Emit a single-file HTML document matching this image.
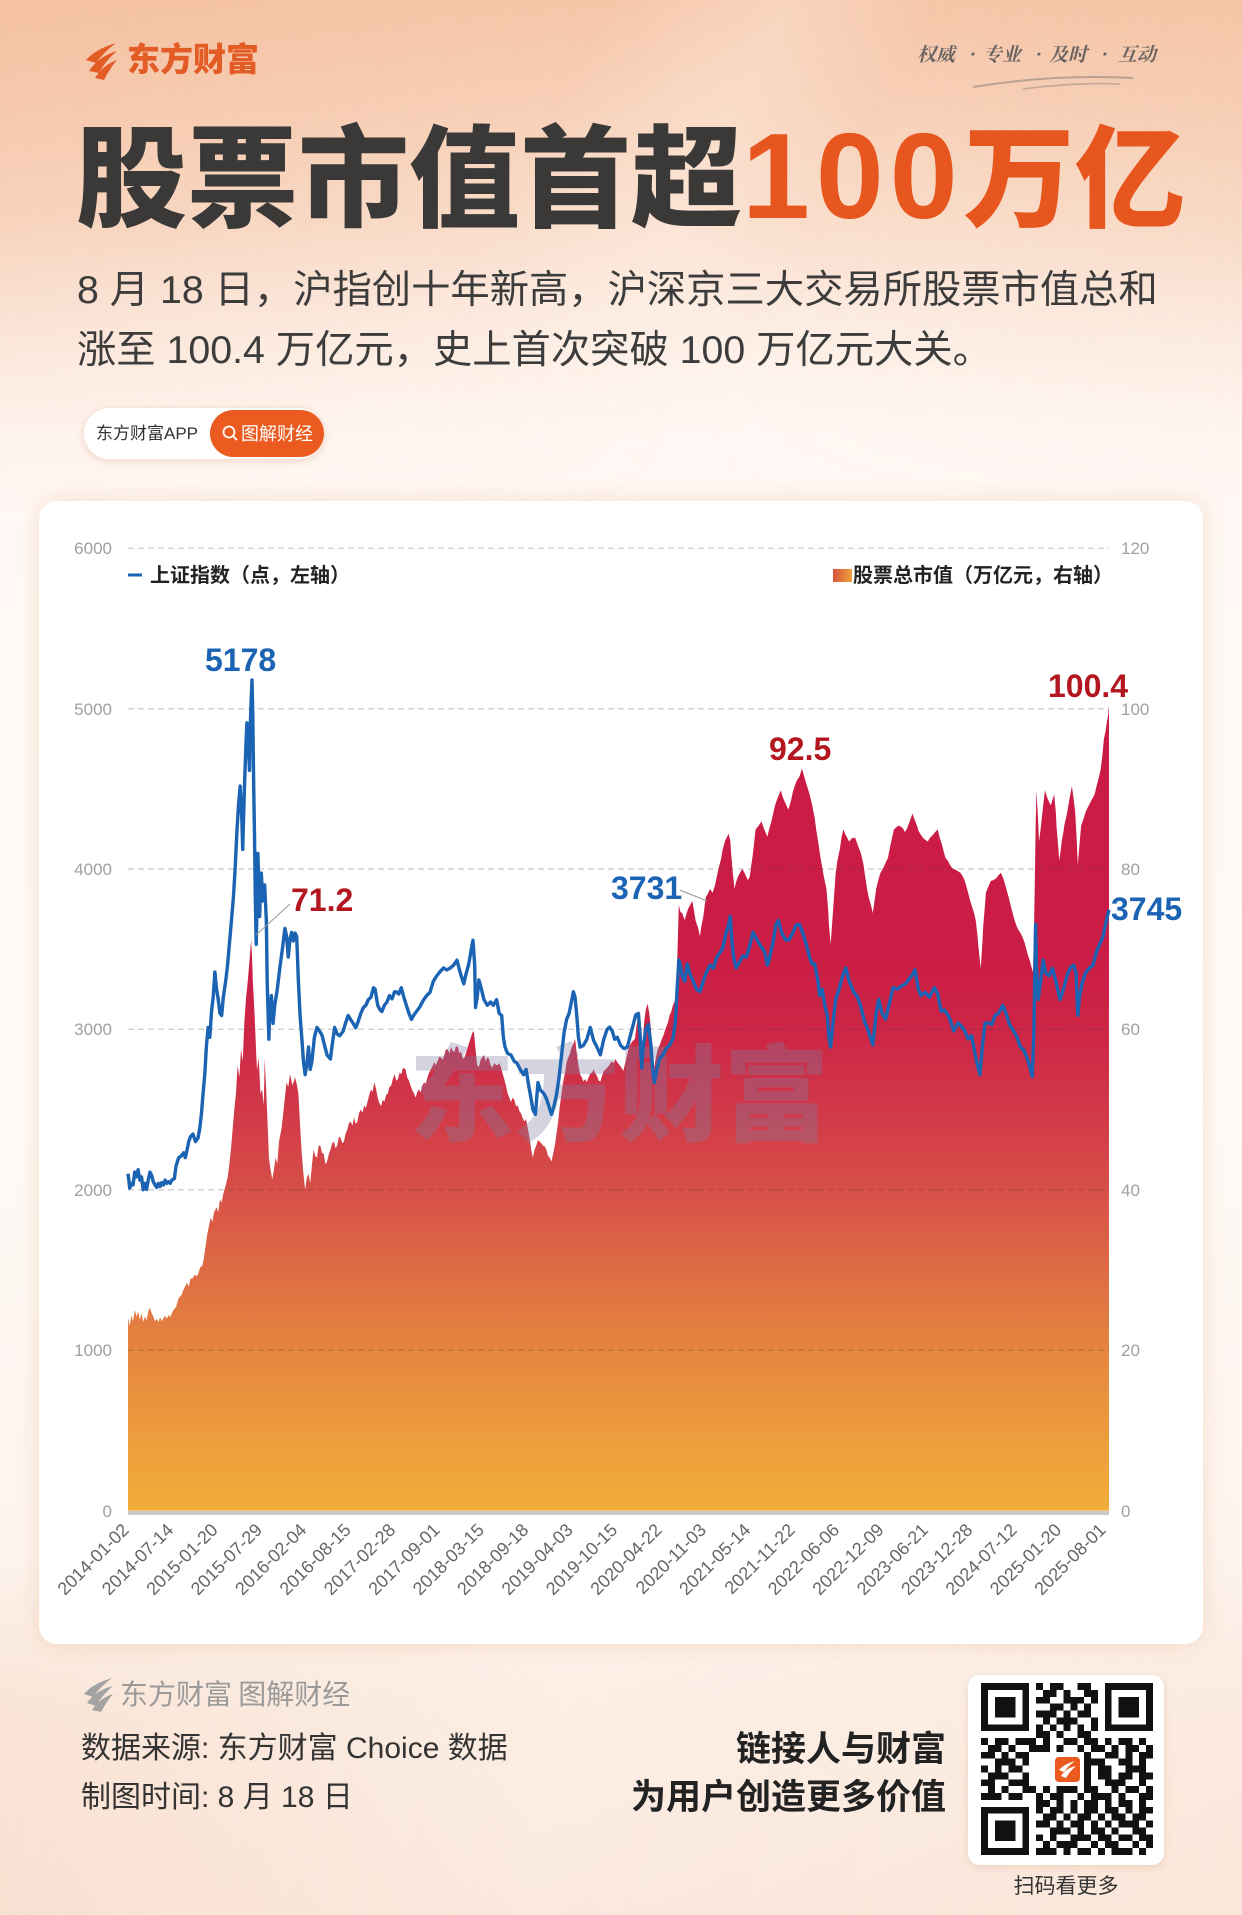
<!DOCTYPE html>
<html lang="zh">
<head>
<meta charset="utf-8">
<style>
  html,body{margin:0;padding:0;}
  body{
    width:1242px;height:1915px;position:relative;overflow:hidden;
    background:linear-gradient(180deg,#f6c7aa 0px,#f8d2ba 110px,#fadfcd 220px,#fcebe0 300px,#fef4ed 380px,#fff8f4 440px,#fffaf6 1100px,#fdf4ee 1550px,#fcefe6 1700px,#fbe9de 1915px);
    font-family:"Liberation Sans","Noto Sans CJK SC",sans-serif;
  }
  .ov1{position:absolute;left:0;top:0;width:1242px;height:520px;
    background:linear-gradient(90deg,rgba(240,170,130,0.22) 0%,rgba(255,255,255,0) 55%,rgba(240,180,140,0.12) 100%);
    -webkit-mask-image:linear-gradient(to bottom,#000 0%,#000 45%,transparent 100%);
    mask-image:linear-gradient(to bottom,#000 0%,#000 45%,transparent 100%);}
  .ov2{position:absolute;left:0;top:0;width:1242px;height:520px;
    background:linear-gradient(118deg,rgba(255,255,255,0) 40%,rgba(255,240,230,0.35) 52%,rgba(255,255,255,0) 62%);
    -webkit-mask-image:linear-gradient(to bottom,#000 0%,#000 45%,transparent 100%);
    mask-image:linear-gradient(to bottom,#000 0%,#000 45%,transparent 100%);}
  .ov3{position:absolute;left:0;top:1560px;width:1242px;height:355px;
    background:linear-gradient(100deg,rgba(246,214,192,0.45) 0%,rgba(255,255,255,0) 45%,rgba(250,225,208,0.3) 100%);
    -webkit-mask-image:linear-gradient(to bottom,transparent 0%,#000 45%,#000 100%);
    mask-image:linear-gradient(to bottom,transparent 0%,#000 45%,#000 100%);}
  .card{position:absolute;left:39px;top:501px;width:1164px;height:1143px;background:#fff;border-radius:18px;
    box-shadow:0 0 22px rgba(236,190,150,0.45);}
  .pill{position:absolute;left:83px;top:407px;width:242px;height:53px;border-radius:27px;background:#fff;
    box-shadow:0 2px 7px rgba(220,170,140,0.35);border:1px solid #f4e4da;box-sizing:border-box;}
  .pill2{position:absolute;left:210px;top:410px;width:114px;height:47px;border-radius:24px;background:#eb5a1e;}
  .qr{position:absolute;left:968px;top:1675px;width:196px;height:190px;background:#fff;border-radius:12px;
    box-shadow:0 2px 8px rgba(200,160,130,0.3);}
  svg.main{position:absolute;left:0;top:0;z-index:2;}
</style>
</head>
<body>
<div class="ov1"></div>
<div class="ov2"></div>
<div class="ov3"></div>
<div class="pill"></div>
<div class="pill2"></div>
<div class="card"></div>
<div class="qr"></div>

<svg class="main" width="1242" height="1915" viewBox="0 0 1242 1915" xmlns="http://www.w3.org/2000/svg">
  <defs>
    <linearGradient id="areaG" gradientUnits="userSpaceOnUse" x1="0" y1="0" x2="0" y2="100">
      <stop offset="0" stop-color="#f1ad3a"/>
      <stop offset="0.1" stop-color="#ec9b3c"/>
      <stop offset="0.2" stop-color="#e5853f"/>
      <stop offset="0.3" stop-color="#de6b44"/>
      <stop offset="0.4" stop-color="#d74f48"/>
      <stop offset="0.5" stop-color="#d13848"/>
      <stop offset="0.6" stop-color="#cd2546"/>
      <stop offset="0.7" stop-color="#cb1c45"/>
      <stop offset="1" stop-color="#cb1b45"/>
    </linearGradient>
    <linearGradient id="legG" x1="0" y1="0" x2="1" y2="0">
      <stop offset="0" stop-color="#d8523f"/>
      <stop offset="1" stop-color="#eea23b"/>
    </linearGradient>
  </defs>

  <!-- Header logo -->
  <g fill="#e35b25">
    <path d="M86 60 Q96 49 116 43 Q104 52 96 63 Z"/>
    <path d="M89 71 Q99 56 117 51 Q106 60 99 73 Z"/>
    <path d="M95 78 Q103 65 117 60 Q110 68 104 80 Z"/>
  </g>
  <text x="127" y="71" font-family="Noto Sans CJK SC,sans-serif" font-size="33" font-weight="900" fill="#e35b25">东方财富</text>

  <!-- Slogan -->
  <g font-family="Noto Serif CJK SC,Noto Sans CJK SC,serif" font-size="19" font-weight="700" fill="#6a6463" font-style="italic">
    <text x="917" y="61">权威</text>
    <text x="968" y="61">·</text>
    <text x="983" y="61">专业</text>
    <text x="1034" y="61">·</text>
    <text x="1049" y="61">及时</text>
    <text x="1100" y="61">·</text>
    <text x="1118" y="61">互动</text>
  </g>
  <path d="M973 87 Q1053 74 1133 78" stroke="#8a7d78" stroke-width="2" fill="none" opacity="0.55"/>
  <path d="M1023 89 Q1075 82 1120 84" stroke="#8a7d78" stroke-width="1.6" fill="none" opacity="0.45"/>

  <!-- Title -->
  <text x="76" y="218" font-family="Noto Sans CJK SC,sans-serif" font-size="111" font-weight="900" fill="#3a3938">股票市值首超<tspan fill="#e8561f" font-family="Liberation Sans,sans-serif" font-size="122" font-weight="700" letter-spacing="6">100</tspan><tspan fill="#e8561f">万亿</tspan></text>

  <!-- Subtitle -->
  <g font-family="Liberation Sans,Noto Sans CJK SC,sans-serif" font-size="39.3" fill="#3c3c3c">
    <text x="77" y="303">8 月 18 日，沪指创十年新高，沪深京三大交易所股票市值总和</text>
    <text x="77" y="363">涨至 100.4 万亿元，史上首次突破 100 万亿元大关。</text>
  </g>

  <!-- Pill texts -->
  <text x="96" y="439" font-family="Liberation Sans,Noto Sans CJK SC,sans-serif" font-size="17" fill="#333">东方财富APP</text>
  <circle cx="229" cy="432" r="5.5" fill="none" stroke="#fff" stroke-width="1.8"/>
  <line x1="233" y1="436" x2="236.5" y2="439.5" stroke="#fff" stroke-width="1.8" stroke-linecap="round"/>
  <text x="241" y="440" font-family="Noto Sans CJK SC,sans-serif" font-size="18" fill="#fff">图解财经</text>

  <!-- Chart: area -->
  <g transform="matrix(84.35 0 0 -8.0217 128 1510.6)">
    <path fill="url(#areaG)" d="M0,0 L0,24 0.02,23 0.04,24.3 0.06,23.6 0.08,25 0.10,24.2 0.12,24.8 0.14,23.8 0.16,24.6 0.18,23.5 0.20,24.2 0.22,23.7 0.24,24.8 0.26,25.3 0.28,24.6 0.30,24.2 0.32,23.6 0.34,23.9 0.36,23.5 0.38,24.1 0.40,23.6 0.42,24 0.44,24.3 0.46,23.9 0.48,24.4 0.50,24.1 0.52,24.6 0.54,25 0.57,25.4 0.60,26.5 0.63,26.8 0.66,27.6 0.70,28.4 0.72,27.9 0.74,28.9 0.77,29 0.79,29.4 0.82,29.2 0.84,29.8 0.86,30.4 0.88,30.5 0.90,31.5 0.92,33 0.94,34.5 0.96,35.5 0.98,36.5 1.00,36 1.02,37.2 1.05,37.8 1.07,37.2 1.09,38.8 1.11,38.4 1.13,39.5 1.16,40.6 1.18,41.5 1.20,43 1.22,45 1.24,47.5 1.26,50 1.28,52 1.30,55.5 1.32,54 1.34,57.5 1.36,56 1.38,61 1.40,64 1.42,66 1.44,68.5 1.46,71.2 1.47,69 1.48,66 1.50,62 1.52,57 1.53,54.9 1.55,56.5 1.57,52 1.59,52.5 1.61,50.5 1.62,56.4 1.64,52 1.66,47 1.67,44 1.69,42.5 1.71,41.3 1.73,42.5 1.75,44 1.77,43.2 1.79,46 1.82,47.6 1.84,49.5 1.86,51.5 1.88,53.4 1.90,52.8 1.92,54.4 1.95,53 1.98,54 2.00,53.2 2.02,52 2.04,48 2.06,44.5 2.08,42 2.10,40 2.12,41.5 2.14,42 2.16,40.8 2.18,43 2.20,45 2.22,44.2 2.24,44 2.26,45.5 2.28,45.5 2.30,44.6 2.32,44.5 2.34,43.2 2.36,43.5 2.38,44.4 2.40,45 2.42,45.8 2.44,46 2.46,45.2 2.48,45.5 2.50,46.6 2.52,46.5 2.54,45.8 2.56,46 2.58,47 2.60,47.5 2.62,48.3 2.64,48.5 2.66,48 2.68,49 2.70,48.2 2.72,48.5 2.74,49.6 2.76,50 2.78,49.6 2.80,50.5 2.82,50.2 2.84,51 2.86,51.8 2.88,52.5 2.90,52.2 2.92,53.4 2.94,52.6 2.96,51.5 2.98,50.8 3.00,50.4 3.02,51.2 3.04,51 3.06,51.8 3.08,52 3.10,52.8 3.12,53 3.14,53.8 3.16,54.4 3.18,53.6 3.20,53.8 3.22,54.6 3.24,54.4 3.26,55.2 3.29,55 3.31,54 3.33,53.6 3.35,53 3.37,52.4 3.39,52 3.41,51.5 3.43,52.2 3.45,52.5 3.47,52.1 3.49,53 3.51,53.4 3.53,53.2 3.55,54 3.57,54.6 3.59,55 3.61,55.4 3.63,55.9 3.65,55.5 3.67,56 3.69,56.6 3.71,56.5 3.73,56.2 3.75,56.8 3.77,57.5 3.79,57.5 3.81,57 3.83,57.8 3.85,57.3 3.87,57.2 3.89,57.9 3.91,57.8 3.93,57 3.95,57.2 3.97,56.3 3.99,56.5 4.02,57.5 4.04,58.2 4.06,58.8 4.08,59.5 4.10,59.8 4.12,57.5 4.14,55.5 4.16,55.3 4.18,56.2 4.20,56.5 4.22,56.8 4.24,56 4.26,56.5 4.28,56.3 4.30,55.5 4.32,55.2 4.34,55.8 4.36,55.6 4.38,55.5 4.40,55.8 4.42,55.3 4.44,54.5 4.46,53.8 4.48,53 4.50,52 4.52,51.5 4.54,50.9 4.56,51.5 4.58,51.2 4.60,50.4 4.62,50.5 4.64,49.8 4.66,49.5 4.68,48.9 4.70,48.5 4.72,48.8 4.74,47.6 4.76,46.5 4.78,45 4.80,44 4.82,45 4.84,45.5 4.86,46.2 4.88,46 4.90,45.8 4.92,45.5 4.94,45.4 4.96,45 4.98,44.2 5.00,44 5.02,43.5 5.04,44.5 5.06,45.5 5.08,47 5.10,48.5 5.12,50.5 5.14,52 5.16,53.5 5.18,54.5 5.20,55.9 5.22,56.5 5.24,57 5.26,57.8 5.28,58.2 5.30,58.8 5.32,57 5.34,55.5 5.36,54.4 5.38,54 5.40,53.5 5.42,53.8 5.44,53.4 5.46,54 5.48,54.5 5.50,54.6 5.52,55 5.54,54.5 5.56,54.2 5.58,53.6 5.60,53.5 5.62,54.2 5.64,54.8 5.66,55 5.69,55.3 5.71,55.6 5.73,56 5.76,55.8 5.78,56.3 5.80,55.9 5.83,55.5 5.85,55.2 5.87,54.8 5.89,55.6 5.91,56.5 5.94,57.8 5.96,58.2 5.98,58.5 6.01,58.8 6.03,60.5 6.05,61.7 6.07,62 6.09,59 6.10,58 6.12,61 6.14,62.5 6.16,63.2 6.18,62 6.20,60 6.22,56.5 6.24,55.3 6.26,56.6 6.28,57.5 6.31,58.2 6.33,58.8 6.35,59.3 6.37,60 6.40,60.8 6.42,61.7 6.44,62.2 6.46,63 6.49,63.7 6.51,68 6.53,75.5 6.55,74.6 6.57,74.5 6.60,73.6 6.62,74.4 6.64,75 6.67,75.6 6.69,76 6.71,74.8 6.73,73.5 6.76,72.6 6.78,71.6 6.80,73 6.82,74 6.85,76.5 6.87,76.8 6.90,77.5 6.93,77 6.96,78 6.98,79 7.00,80 7.03,81.2 7.05,82.4 7.08,83.5 7.12,84.4 7.14,83.5 7.15,82 7.17,79.5 7.19,77.5 7.21,78.4 7.23,79 7.26,79.6 7.28,80 7.31,79.5 7.33,79 7.35,78.6 7.37,79 7.39,80.5 7.41,82 7.44,84.9 7.47,85.3 7.51,85.9 7.54,85 7.56,84.5 7.58,84 7.60,84.9 7.62,85.6 7.64,86.5 7.67,87.9 7.70,88.8 7.74,89.8 7.76,89 7.78,88.5 7.81,87.8 7.83,87.4 7.86,88.5 7.88,89.5 7.90,90.2 7.92,90.8 7.94,91.2 7.96,91.5 7.99,92.5 8.01,91.8 8.03,91 8.06,90 8.08,89.3 8.11,88 8.14,86.4 8.16,84.8 8.18,83.5 8.21,81.4 8.23,80.2 8.25,79 8.28,77.5 8.30,75 8.31,73 8.33,70.6 8.35,73.5 8.36,75 8.39,79.5 8.41,81 8.44,82.5 8.46,84 8.48,84.9 8.51,84.2 8.55,83.4 8.58,83.8 8.62,83.9 8.65,83 8.69,81.9 8.72,80.5 8.74,79 8.76,77.6 8.78,76.5 8.81,75.4 8.83,74.5 8.85,76 8.87,77.5 8.90,78.8 8.92,79.5 8.95,80 8.97,80.5 9.01,81.4 9.04,83 9.08,84.9 9.11,85.2 9.14,85.4 9.17,85.2 9.19,85 9.21,84.6 9.23,84.9 9.27,86 9.30,86.9 9.33,86 9.35,85.5 9.37,84.8 9.39,84.4 9.43,83.8 9.48,83.4 9.51,83.9 9.54,84.2 9.57,84.6 9.60,84.9 9.62,84 9.65,83 9.67,82.2 9.69,81.4 9.72,81 9.75,80.4 9.78,80 9.81,79.9 9.84,79.7 9.87,79.5 9.90,79 9.92,78.5 9.94,77.8 9.96,77 9.98,76.2 10.00,75.5 10.03,74.5 10.05,73.6 10.07,71.8 10.08,70.5 10.10,68.5 10.11,67.6 10.13,71 10.14,73 10.16,75.5 10.17,77 10.20,77.8 10.23,78.5 10.26,78.6 10.29,78.8 10.32,79.2 10.35,79.5 10.38,78.7 10.40,78 10.42,77.2 10.44,76.5 10.47,75.2 10.51,73.6 10.53,73 10.55,72.5 10.58,72 10.60,71.6 10.63,70.8 10.65,70 10.67,69.2 10.69,68.6 10.71,67.8 10.73,67.1 10.74,72 10.75,78 10.76,85 10.77,89.8 10.79,86 10.80,83.4 10.82,85 10.84,87 10.86,88.8 10.87,89.8 10.90,88.8 10.94,87.9 10.96,88.6 10.98,89.3 11.00,87 11.01,85 11.03,82.5 11.04,81 11.06,82.5 11.07,83.5 11.09,84.6 11.10,85.4 11.13,86.8 11.15,88 11.17,89.2 11.19,90.3 11.21,88.8 11.23,87 11.25,83 11.26,80.5 11.28,83 11.30,85.4 11.33,86.3 11.35,87 11.37,87.5 11.39,87.9 11.42,88.5 11.46,89.3 11.48,90.2 11.50,91 11.53,92.3 11.55,94 11.57,96.2 11.59,97.2 11.60,98 11.62,99.2 11.63,100.4 11.63,0 Z"/>
  </g>

  <!-- Watermark -->
  <text x="409" y="1133" font-family="Noto Sans CJK SC,sans-serif" font-size="105" font-weight="900" fill="#7c7fa3" opacity="0.33">东方财富</text>

  <!-- Gridlines -->
  <g stroke="rgba(60,60,60,0.22)" stroke-width="1.5" stroke-dasharray="6 4">
    <line x1="128" y1="548.3" x2="1109" y2="548.3"/>
    <line x1="128" y1="708.7" x2="1109" y2="708.7"/>
    <line x1="128" y1="869" x2="1109" y2="869"/>
    <line x1="128" y1="1029.3" x2="1109" y2="1029.3"/>
    <line x1="128" y1="1189.7" x2="1109" y2="1189.7"/>
    <line x1="128" y1="1350.1" x2="1109" y2="1350.1"/>
  </g>
  <rect x="128" y="1511" width="981" height="4" fill="#c9c7c7"/>

  <!-- Blue line -->
  <g transform="matrix(84.35 0 0 -0.16043 128 1510.6)">
    <path fill="none" stroke="#1b63b3" stroke-width="3.4" stroke-linejoin="round" vector-effect="non-scaling-stroke" d="M0,2100 L0.01,2060 0.02,2010 0.04,2040 0.06,2030 0.08,2110 0.10,2080 0.12,2125 0.14,2060 0.16,2080 0.18,2000 0.20,2040 0.22,2002 0.24,2060 0.26,2110 0.28,2090 0.30,2050 0.32,2030 0.34,2014 0.36,2040 0.38,2020 0.40,2045 0.42,2030 0.44,2060 0.46,2040 0.48,2050 0.50,2040 0.52,2060 0.55,2070 0.57,2150 0.60,2199 0.63,2210 0.66,2230 0.68,2200 0.70,2248 0.72,2300 0.74,2330 0.77,2347 0.80,2300 0.83,2322 0.85,2380 0.87,2470 0.89,2600 0.91,2717 0.93,2900 0.95,3012 0.97,2950 0.99,3111 1.01,3200 1.03,3357 1.05,3250 1.07,3185 1.09,3100 1.11,3086 1.13,3200 1.16,3308 1.18,3400 1.21,3580 1.23,3700 1.25,3826 1.27,4000 1.29,4220 1.31,4400 1.33,4516 1.35,4300 1.36,4121 1.38,4500 1.40,4800 1.41,4910 1.43,4750 1.44,4614 1.45,4900 1.46,5050 1.47,5178 1.48,4950 1.49,4516 1.50,4200 1.51,3800 1.52,3530 1.53,3800 1.54,4097 1.55,3900 1.56,3703 1.57,3850 1.58,3974 1.60,3800 1.62,3900 1.64,3678 1.65,3300 1.67,2938 1.68,3100 1.70,3210 1.72,3037 1.74,3150 1.77,3250 1.80,3382 1.83,3500 1.86,3629 1.88,3580 1.90,3450 1.92,3560 1.94,3604 1.96,3550 1.98,3600 2.00,3579 2.02,3300 2.04,3086 2.06,2950 2.08,2800 2.10,2717 2.12,2780 2.14,2889 2.16,2750 2.18,2800 2.21,2950 2.24,3012 2.27,2990 2.30,2963 2.33,2900 2.36,2840 2.40,2815 2.42,2900 2.45,3012 2.48,2970 2.51,2960 2.55,2988 2.58,3040 2.61,3086 2.64,3060 2.67,3037 2.70,3010 2.73,3050 2.76,3100 2.79,3135 2.82,3150 2.85,3185 2.88,3200 2.91,3259 2.93,3250 2.96,3150 2.99,3120 3.01,3111 3.04,3150 3.07,3170 3.10,3210 3.13,3190 3.16,3234 3.18,3234 3.21,3220 3.24,3259 3.27,3200 3.30,3150 3.33,3100 3.36,3062 3.39,3090 3.42,3111 3.46,3140 3.50,3180 3.54,3210 3.58,3230 3.62,3300 3.66,3333 3.70,3360 3.74,3382 3.78,3370 3.82,3382 3.86,3400 3.90,3431 3.94,3350 3.98,3284 4.01,3350 4.04,3407 4.07,3500 4.09,3555 4.11,3400 4.12,3136 4.14,3200 4.16,3308 4.19,3250 4.22,3185 4.26,3150 4.30,3170 4.33,3150 4.37,3185 4.40,3100 4.43,3086 4.45,2950 4.47,2889 4.50,2850 4.54,2840 4.58,2800 4.61,2791 4.65,2750 4.69,2717 4.72,2750 4.75,2650 4.77,2593 4.80,2500 4.83,2470 4.86,2668 4.89,2620 4.93,2600 4.96,2569 4.99,2520 5.02,2470 5.05,2520 5.08,2593 5.11,2700 5.14,2840 5.17,2980 5.20,3062 5.23,3100 5.26,3180 5.28,3234 5.30,3200 5.32,3086 5.34,2950 5.36,2889 5.40,2900 5.44,2938 5.48,3012 5.52,2930 5.56,2889 5.60,2841 5.64,2938 5.68,3000 5.71,3013 5.74,2990 5.77,2938 5.80,2950 5.84,2900 5.88,2880 5.92,2890 5.95,2950 5.98,3010 6.02,3090 6.05,3100 6.07,2980 6.09,2760 6.11,2900 6.14,3000 6.17,3030 6.20,2900 6.22,2750 6.24,2668 6.27,2750 6.30,2816 6.34,2840 6.38,2880 6.42,2900 6.46,2940 6.49,3050 6.51,3250 6.53,3432 6.55,3400 6.57,3334 6.60,3300 6.63,3408 6.66,3350 6.70,3300 6.74,3250 6.78,3235 6.82,3300 6.86,3358 6.90,3400 6.94,3380 6.98,3450 7.02,3480 7.05,3506 7.09,3600 7.12,3650 7.14,3703 7.16,3550 7.18,3450 7.21,3383 7.25,3420 7.29,3457 7.33,3450 7.37,3520 7.41,3605 7.46,3555 7.50,3520 7.55,3480 7.58,3400 7.60,3432 7.65,3550 7.68,3650 7.71,3679 7.75,3600 7.80,3555 7.84,3560 7.88,3600 7.92,3650 7.96,3654 8.00,3600 8.04,3531 8.08,3450 8.11,3408 8.14,3408 8.18,3300 8.20,3211 8.23,3250 8.26,3150 8.29,3087 8.31,2950 8.33,2890 8.36,3050 8.39,3186 8.43,3250 8.47,3330 8.51,3383 8.55,3300 8.60,3235 8.65,3200 8.69,3137 8.73,3050 8.77,3000 8.80,2950 8.83,2903 8.87,3100 8.90,3186 8.94,3100 8.98,3063 9.03,3170 9.07,3260 9.12,3250 9.17,3270 9.22,3284 9.27,3320 9.30,3340 9.33,3371 9.37,3250 9.40,3211 9.45,3230 9.50,3200 9.56,3260 9.60,3220 9.64,3112 9.68,3120 9.73,3080 9.76,3038 9.79,2990 9.84,3040 9.88,3020 9.92,2990 9.96,2940 10.00,2960 10.03,2880 10.06,2800 10.10,2717 10.13,2900 10.16,3038 10.20,3040 10.24,3030 10.28,3087 10.32,3100 10.37,3149 10.41,3100 10.45,3030 10.50,2989 10.54,2950 10.58,2890 10.62,2870 10.66,2820 10.70,2750 10.72,2705 10.74,3000 10.755,3500 10.76,3654 10.77,3400 10.79,3186 10.82,3300 10.85,3432 10.88,3350 10.92,3334 10.96,3380 11.00,3300 11.05,3186 11.09,3250 11.13,3330 11.17,3383 11.21,3400 11.24,3350 11.26,3087 11.28,3200 11.31,3284 11.35,3350 11.40,3383 11.44,3400 11.48,3480 11.52,3531 11.56,3580 11.60,3680 11.63,3745"/>
  </g>

  <!-- Axis labels -->
  <g font-family="Liberation Sans,sans-serif" font-size="17" fill="#a0a0a0">
    <g text-anchor="end">
      <text x="112" y="554">6000</text>
      <text x="112" y="715">5000</text>
      <text x="112" y="875">4000</text>
      <text x="112" y="1035">3000</text>
      <text x="112" y="1196">2000</text>
      <text x="112" y="1356">1000</text>
      <text x="112" y="1517">0</text>
    </g>
    <text x="1121" y="554">120</text>
    <text x="1121" y="715">100</text>
    <text x="1121" y="875">80</text>
    <text x="1121" y="1035">60</text>
    <text x="1121" y="1196">40</text>
    <text x="1121" y="1356">20</text>
    <text x="1121" y="1517">0</text>
  </g>

  <!-- X labels -->
  <g font-family="Liberation Sans,sans-serif" font-size="18" fill="#666" text-anchor="end">
    <text transform="translate(130 1531) rotate(-45)">2014-01-02</text>
    <text transform="translate(174.4 1531) rotate(-45)">2014-07-14</text>
    <text transform="translate(218.8 1531) rotate(-45)">2015-01-20</text>
    <text transform="translate(263.2 1531) rotate(-45)">2015-07-29</text>
    <text transform="translate(307.6 1531) rotate(-45)">2016-02-04</text>
    <text transform="translate(352 1531) rotate(-45)">2016-08-15</text>
    <text transform="translate(396.4 1531) rotate(-45)">2017-02-28</text>
    <text transform="translate(440.8 1531) rotate(-45)">2017-09-01</text>
    <text transform="translate(485.2 1531) rotate(-45)">2018-03-15</text>
    <text transform="translate(529.6 1531) rotate(-45)">2018-09-18</text>
    <text transform="translate(574 1531) rotate(-45)">2019-04-03</text>
    <text transform="translate(618.4 1531) rotate(-45)">2019-10-15</text>
    <text transform="translate(662.8 1531) rotate(-45)">2020-04-22</text>
    <text transform="translate(707.2 1531) rotate(-45)">2020-11-03</text>
    <text transform="translate(751.6 1531) rotate(-45)">2021-05-14</text>
    <text transform="translate(796 1531) rotate(-45)">2021-11-22</text>
    <text transform="translate(840.4 1531) rotate(-45)">2022-06-06</text>
    <text transform="translate(884.8 1531) rotate(-45)">2022-12-09</text>
    <text transform="translate(929.2 1531) rotate(-45)">2023-06-21</text>
    <text transform="translate(973.6 1531) rotate(-45)">2023-12-28</text>
    <text transform="translate(1018 1531) rotate(-45)">2024-07-12</text>
    <text transform="translate(1062.4 1531) rotate(-45)">2025-01-20</text>
    <text transform="translate(1106.8 1531) rotate(-45)">2025-08-01</text>
  </g>

  <!-- Legends -->
  <line x1="128" y1="575" x2="142" y2="575" stroke="#1b63b3" stroke-width="3"/>
  <text x="150" y="582" font-family="Noto Sans CJK SC,sans-serif" font-size="20" font-weight="700" fill="#222">上证指数（点，左轴）</text>
  <rect x="833" y="569" width="19" height="13" fill="url(#legG)"/>
  <text x="853" y="582" font-family="Noto Sans CJK SC,sans-serif" font-size="20" font-weight="700" fill="#222">股票总市值（万亿元，右轴）</text>

  <!-- Annotations -->
  <line x1="290" y1="904" x2="256" y2="935" stroke="#999" stroke-width="1"/>
  <line x1="680" y1="890" x2="707" y2="901" stroke="#999" stroke-width="1"/>
  <g font-family="Liberation Sans,sans-serif" font-size="32" font-weight="700">
    <text x="205" y="671" fill="#1b63b3">5178</text>
    <text x="291" y="911" fill="#b3161e">71.2</text>
    <text x="611" y="899" fill="#1b63b3">3731</text>
    <text x="769" y="760" fill="#b3161e">92.5</text>
    <text x="1048" y="697" fill="#b3161e">100.4</text>
    <text x="1111" y="920" fill="#1b63b3">3745</text>
  </g>

  <!-- Footer -->
  <g fill="#a3a3a3">
    <path d="M84 1694 Q92 1684 112 1678 Q100 1687 93 1697 Z"/>
    <path d="M87 1703 Q96 1690 113 1686 Q103 1694 96 1706 Z"/>
    <path d="M92 1710 Q100 1698 113 1694 Q107 1701 101 1712 Z"/>
  </g>
  <text x="120" y="1704" font-family="Noto Sans CJK SC,sans-serif" font-size="28" fill="#9a9a9a">东方财富 图解财经</text>
  <g font-family="Liberation Sans,Noto Sans CJK SC,sans-serif" font-size="30" fill="#333">
    <text x="81" y="1758">数据来源: 东方财富 Choice 数据</text>
    <text x="81" y="1807">制图时间: 8 月 18 日</text>
  </g>
  <g font-family="Noto Sans CJK SC,sans-serif" font-size="35" font-weight="700" fill="#222" text-anchor="end">
    <text x="946" y="1761">链接人与财富</text>
    <text x="946" y="1809">为用户创造更多价值</text>
  </g>
  <text x="1066" y="1893" font-family="Noto Sans CJK SC,sans-serif" font-size="21" fill="#333" text-anchor="middle">扫码看更多</text>

  <!-- QR -->
  <g transform="translate(981 1683) scale(6.88)" fill="#111" shape-rendering="crispEdges">
    <path d="M0 0h7v1h-7z M8 0h1v1h-1z M10 0h2v1h-2z M14 0h2v1h-2z M18 0h7v1h-7z
M0 1h1v1h-1z M6 1h1v1h-1z M9 1h2v1h-2z M12 1h1v1h-1z M15 1h2v1h-2z M18 1h1v1h-1z M24 1h1v1h-1z
M0 2h1v1h-1z M2 2h3v1h-3z M6 2h1v1h-1z M8 2h2v1h-2z M12 2h3v1h-3z M16 2h1v1h-1z M18 2h1v1h-1z M20 2h3v1h-3z M24 2h1v1h-1z
M0 3h1v1h-1z M2 3h3v1h-3z M6 3h1v1h-1z M10 3h2v1h-2z M13 3h1v1h-1z M15 3h1v1h-1z M18 3h1v1h-1z M20 3h3v1h-3z M24 3h1v1h-1z
M0 4h1v1h-1z M2 4h3v1h-3z M6 4h1v1h-1z M8 4h3v1h-3z M12 4h1v1h-1z M14 4h2v1h-2z M18 4h1v1h-1z M20 4h3v1h-3z M24 4h1v1h-1z
M0 5h1v1h-1z M6 5h1v1h-1z M9 5h1v1h-1z M11 5h3v1h-3z M16 5h1v1h-1z M18 5h1v1h-1z M24 5h1v1h-1z
M0 6h7v1h-7z M8 6h1v1h-1z M10 6h1v1h-1z M12 6h1v1h-1z M14 6h1v1h-1z M16 6h1v1h-1z M18 6h7v1h-7z
M8 7h2v1h-2z M11 7h1v1h-1z M14 7h2v1h-2z
M0 8h1v1h-1z M2 8h2v1h-2z M5 8h3v1h-3z M9 8h1v1h-1z M12 8h2v1h-2z M15 8h2v1h-2z M18 8h1v1h-1z M20 8h2v1h-2z M23 8h1v1h-1z
M1 9h2v1h-2z M4 9h1v1h-1z M7 9h3v1h-3z M11 9h1v1h-1z M14 9h1v1h-1z M16 9h2v1h-2z M19 9h1v1h-1z M21 9h2v1h-2z M24 9h1v1h-1z
M0 10h2v1h-2z M3 10h1v1h-1z M5 10h2v1h-2z M15 10h1v1h-1z M18 10h2v1h-2z M21 10h1v1h-1z M23 10h2v1h-2z
M2 11h3v1h-3z M6 11h1v1h-1z M15 11h3v1h-3z M20 11h2v1h-2z M23 11h1v1h-1z
M0 12h1v1h-1z M2 12h1v1h-1z M4 12h2v1h-2z M15 12h1v1h-1z M17 12h2v1h-2z M21 12h3v1h-3z
M1 13h3v1h-3z M6 13h1v1h-1z M15 13h1v1h-1z M17 13h2v1h-2z M20 13h2v1h-2z M23 13h2v1h-2z
M0 14h2v1h-2z M4 14h3v1h-3z M15 14h1v1h-1z M18 14h3v1h-3z M23 14h1v1h-1z
M1 15h1v1h-1z M3 15h1v1h-1z M6 15h2v1h-2z M9 15h1v1h-1z M11 15h3v1h-3z M15 15h2v1h-2z M19 15h1v1h-1z M21 15h2v1h-2z M24 15h1v1h-1z
M0 16h3v1h-3z M4 16h2v1h-2z M8 16h1v1h-1z M10 16h2v1h-2z M14 16h1v1h-1z M16 16h3v1h-3z M20 16h1v1h-1z M23 16h2v1h-2z
M8 17h2v1h-2z M11 17h1v1h-1z M13 17h1v1h-1z M15 17h2v1h-2z M18 17h1v1h-1z M20 17h2v1h-2z M23 17h1v1h-1z
M0 18h7v1h-7z M8 18h1v1h-1z M10 18h2v1h-2z M13 18h1v1h-1z M15 18h2v1h-2z M18 18h2v1h-2z M21 18h1v1h-1z M23 18h2v1h-2z
M0 19h1v1h-1z M6 19h1v1h-1z M9 19h2v1h-2z M12 19h1v1h-1z M14 19h2v1h-2z M17 19h1v1h-1z M19 19h2v1h-2z M22 19h2v1h-2z
M0 20h1v1h-1z M2 20h3v1h-3z M6 20h1v1h-1z M8 20h2v1h-2z M11 20h1v1h-1z M13 20h2v1h-2z M16 20h1v1h-1z M18 20h1v1h-1z M20 20h3v1h-3z M24 20h1v1h-1z
M0 21h1v1h-1z M2 21h3v1h-3z M6 21h1v1h-1z M10 21h3v1h-3z M14 21h1v1h-1z M16 21h2v1h-2z M19 21h1v1h-1z M22 21h2v1h-2z
M0 22h1v1h-1z M2 22h3v1h-3z M6 22h1v1h-1z M8 22h1v1h-1z M10 22h1v1h-1z M13 22h3v1h-3z M17 22h2v1h-2z M20 22h2v1h-2z M23 22h2v1h-2z
M0 23h1v1h-1z M6 23h1v1h-1z M9 23h1v1h-1z M11 23h3v1h-3z M16 23h1v1h-1z M18 23h2v1h-2z M22 23h1v1h-1z M24 23h1v1h-1z
M0 24h7v1h-7z M8 24h3v1h-3z M12 24h1v1h-1z M14 24h2v1h-2z M17 24h1v1h-1z M19 24h3v1h-3z M23 24h1v1h-1z"/>
  </g>
  <rect x="1054" y="1756" width="27" height="27" rx="5" fill="#ea5a1e" stroke="#fff" stroke-width="2"/>
  <g fill="#fff">
    <path d="M1059 1770 Q1064 1764 1075 1761 Q1068 1766 1064 1772 Z"/>
    <path d="M1061 1776 Q1066 1768 1076 1766 Q1070 1771 1066 1778 Z"/>
  </g>
</svg>
</body>
</html>
